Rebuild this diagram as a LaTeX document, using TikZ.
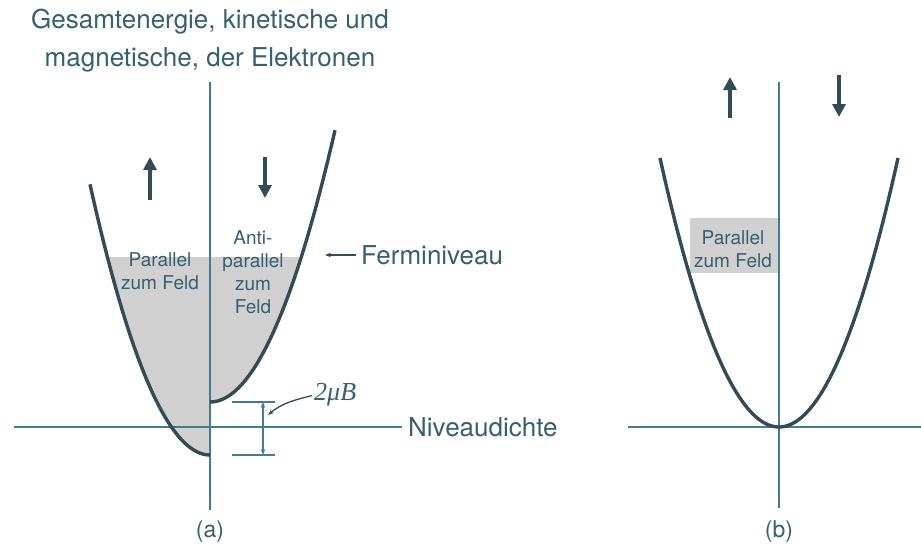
\documentclass[tikz,border=0pt]{standalone}
\usepackage{fontspec}
\setmainfont{TeX Gyre Heros}
\newfontfamily\serifit{Liberation Serif}
\usetikzlibrary{positioning,arrows.meta}
\definecolor{curveSlate}{RGB}{52,74,84}
\definecolor{axisTeal}{RGB}{70,122,142}
\definecolor{labelTeal}{RGB}{55,95,110}
\definecolor{occGray}{RGB}{208,208,208}

\begin{document}
\begin{tikzpicture}[
  x=1pt,y=-1pt,
  axis/.style={axisTeal,line width=1.3pt},
  band/.style={curveSlate,line width=3.4pt},
  occ/.style={fill=occGray},
  spin/.style={curveSlate,line width=4.5pt,-{Triangle[length=13pt,width=13pt]}},
  thin/.style={axisTeal,line width=1.2pt},
  tip/.style={-{Stealth[length=6pt,width=4.5pt]}},
  big/.style={text=labelTeal,inner sep=0pt,font=\fontsize{26}{38}\selectfont,align=center},
  small/.style={text=labelTeal,inner sep=0pt,font=\fontsize{19}{23}\selectfont,align=center},
  tag/.style={text=labelTeal,inner sep=0pt,font=\fontsize{23}{27}\selectfont}
]
\useasboundingbox (0,0) rectangle (921,544);

% (a) occupied states
\fill[occ] plot[domain=-102.6:0,samples=40] ({210+\x},{455-0.0188*\x*\x}) -- (210,257) -- cycle;
\fill[occ] plot[domain=0:91.3,samples=40] ({210+\x},{402-0.0174*\x*\x}) -- (210,257) -- cycle;

\node[big] (title) at (210,41) {Gesamtenergie, kinetische und\\magnetische, der Elektronen};
\node[big,anchor=west] (dos) at (408,427) {Niveaudichte};
\node[big,anchor=west] (fermi) at (361,255) {Ferminiveau};
\node[small] (parA) at (160,271) {Parallel\\zum Feld};
\node[small] (antiA) at (253,272) {Anti-\\parallel\\zum\\Feld};
\node[tag] (capA) at (210,532) {(a)};
\node[anchor=west,inner sep=0pt,text=labelTeal,font={\fontsize{26}{30}\serifit\itshape}] (mub) at (314,395) {2μB};

\draw[axis] (210,82) -- (210,510);
\draw[axis,shorten >=6pt] (14,427) -- (dos.west);
\draw[band] plot[domain=-120:0,samples=50] ({210+\x},{455-0.0188*\x*\x});
\draw[band] plot[domain=0:125,samples=50] ({210+\x},{402-0.0174*\x*\x});

\draw[spin] (150,200) -- (150,157);
\draw[spin] (265,157) -- (265,198);

\coordinate (fermiTip) at (325,255);
\draw[curveSlate,line width=1.4pt,tip,shorten <=5pt] (fermi.west) -- (fermiTip);

\coordinate (dimTop) at (263,402);
\coordinate (dimBot) at (263,455);
\coordinate (dimHit) at (268,415);
\draw[thin] (232,402) -- (275,402);
\draw[thin] (232,455) -- (275,455);
\draw[thin,{Stealth[length=6pt,width=4.5pt]}-{Stealth[length=6pt,width=4.5pt]}] (dimTop) -- (dimBot);
\draw[curveSlate,line width=1.3pt,tip,shorten <=2pt] (mub.west) to[out=195,in=40] (dimHit);

% (b)
\fill[occ] (690,218) rectangle (779,273);
\node[small] (parB) at (733,249) {Parallel\\zum Feld};
\node[tag] (capB) at (779,532) {(b)};

\draw[axis] (779,82) -- (779,508);
\draw[axis] (628,427) -- (921,427);
\draw[band] plot[domain=-119:119,samples=80] ({779+\x},{427-0.019*\x*\x});

\draw[spin] (730,118) -- (730,77);
\draw[spin] (839,75) -- (839,117);
\end{tikzpicture}
\end{document}
